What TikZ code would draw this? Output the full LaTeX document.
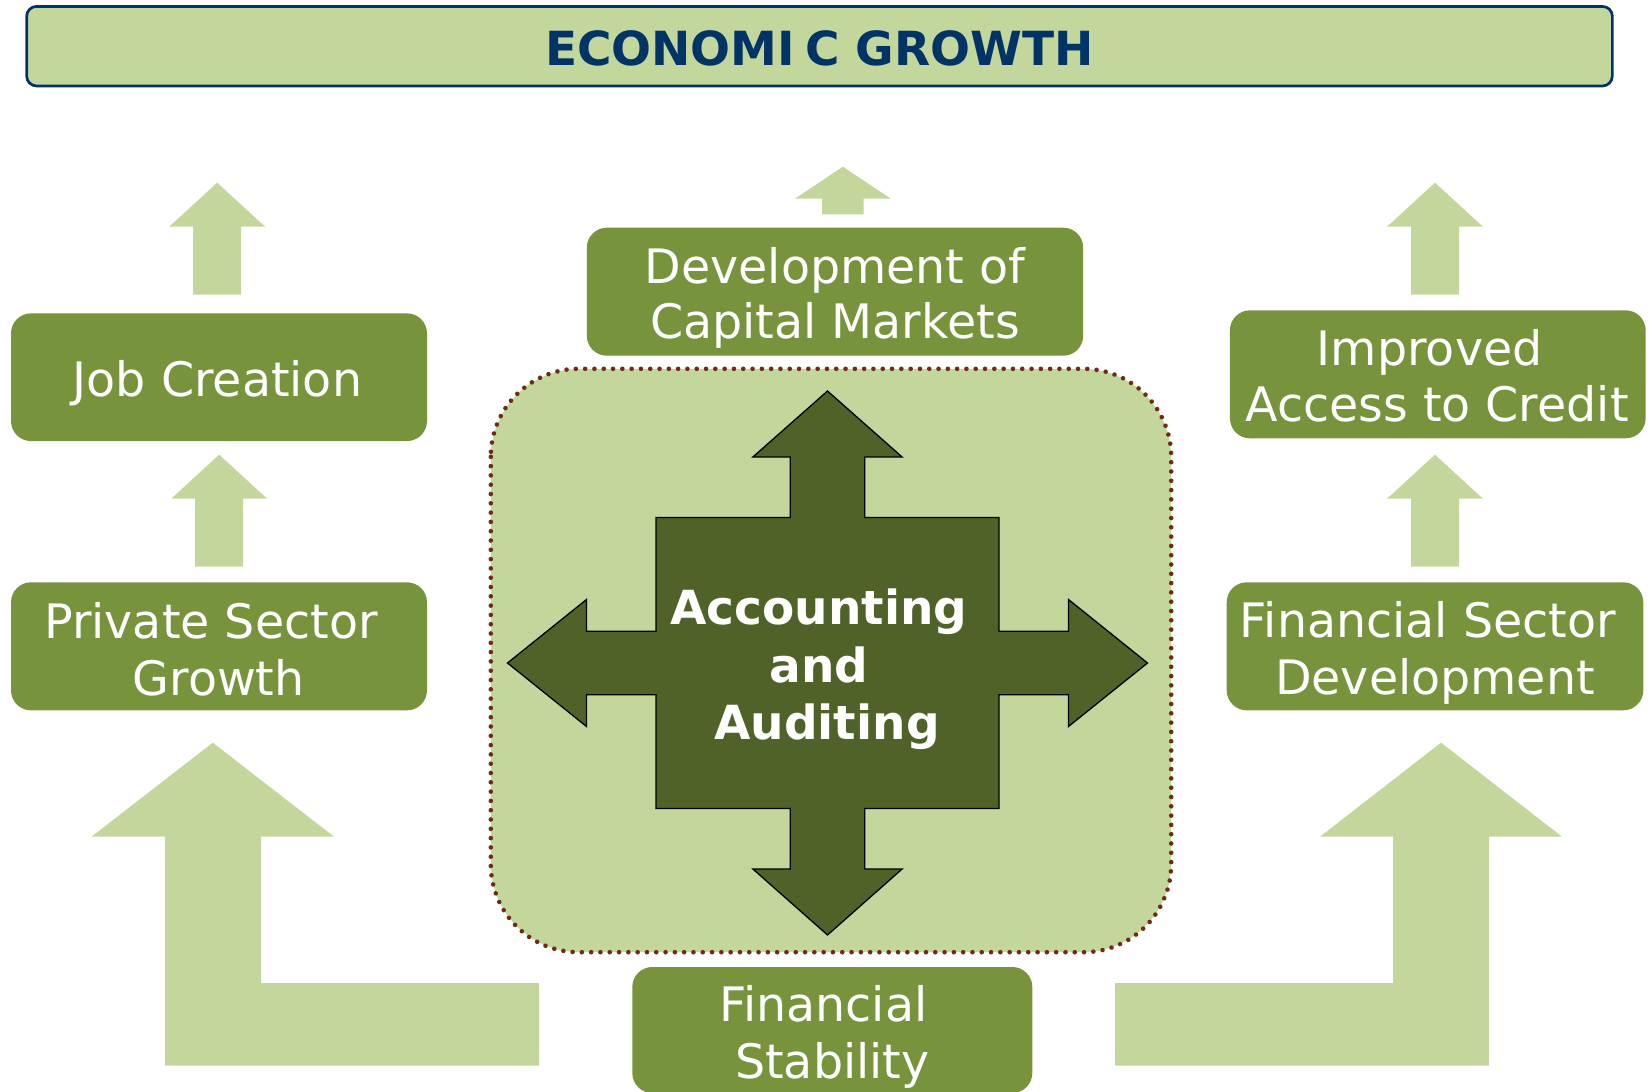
\documentclass[tikz,border=0pt]{standalone}
\usepackage{fontspec}
\usetikzlibrary{decorations.markings}
\setmainfont{DejaVu Sans}
\definecolor{lightg}{RGB}{195,214,155}
\definecolor{midg}{RGB}{119,147,60}
\definecolor{darkg}{RGB}{79,98,40}
\definecolor{navyc}{RGB}{0,51,102}
\definecolor{dotbrown}{RGB}{110,45,18}
\newcommand\greenup[6]{\fill[lightg] (#1,#2) -- (#1+#4,#3) -- (#1+#5,#3) -- (#1+#5,#6) -- (#1-#5,#6) -- (#1-#5,#3) -- (#1-#4,#3) -- cycle;}
\begin{document}
\begin{tikzpicture}[x=1pt,y=-1pt,
  gbox/.style={rectangle, fill=midg, rounded corners=20pt, inner sep=0pt, draw=none},
  lbl/.style={anchor=base, inner sep=0pt, text=white, font=\fontsize{47.5pt}{47.5pt}\selectfont},
  blbl/.style={anchor=base, inner sep=0pt, text=white, font=\bfseries\fontsize{47pt}{47pt}\selectfont},
  dotborder/.style={decoration={markings, mark=between positions 0 and 1 step 9.3pt with {\fill[dotbrown] (0,0) circle (2.3pt);}}, decorate}]
\clip (0,0) rectangle (1650,1092);
\fill[white] (0,0) rectangle (1650,1092);

% title
\node[rectangle, draw=navyc, line width=2.7pt, fill=lightg, rounded corners=10pt,
      minimum width=1585.7pt, minimum height=79.6pt, inner sep=0pt] (title) at (819.5,46.2) {};
\node[anchor=base, inner sep=0pt, text=navyc, font=\bfseries\fontsize{47pt}{47pt}\selectfont]
      (titlet) at (819.5,65.7) {ECONOMI\kern10pt C GROWTH};

% central container
\node[rectangle, fill=lightg, rounded corners=88pt, minimum width=680pt, minimum height=583pt,
      inner sep=0pt] (core) at (831,660.5) {};
\path[dotborder, rounded corners=88pt] (core.north west) rectangle (core.south east);

% quad arrow
\draw[fill=darkg, draw=black, line width=1.3pt, line join=miter]
  (827.5,391) -- (902.1,457) -- (864.7,457) -- (864.7,517.5) -- (999,517.5) -- (999,631.3)
  -- (1068.5,631.3) -- (1068.5,599.5) -- (1147.5,663) -- (1068.5,726.5) -- (1068.5,694.7)
  -- (999,694.7) -- (999,808.5) -- (864.7,808.5) -- (864.7,869) -- (902.1,869)
  -- (827.5,935) -- (752.9,869) -- (790.3,869) -- (790.3,808.5) -- (656,808.5)
  -- (656,694.7) -- (586.5,694.7) -- (586.5,726.5) -- (507.5,663) -- (586.5,599.5)
  -- (586.5,631.3) -- (656,631.3) -- (656,517.5) -- (790.3,517.5) -- (790.3,457)
  -- (752.9,457) -- cycle;
\node[blbl] (aa1) at (818.8,624.7) {Accounting};
\node[blbl] (aa2) at (818.8,682) {and};
\node[blbl] (aa3) at (827,739.6) {Auditing};

% boxes
\node[gbox, minimum width=416pt, minimum height=127.7pt] (job) at (219,377.2) {};
\node[lbl] (jobt) at (217.5,396.7) {Job Creation};

\node[gbox, minimum width=416pt, minimum height=128pt] (priv) at (219,646.3) {};
\node[lbl] (privt1) at (211,638.3) {Private Sector};
\node[lbl] (privt2) at (218.7,695) {Growth};

\node[gbox, minimum width=415.7pt, minimum height=128pt] (imp) at (1437.8,374.3) {};
\node[lbl] (impt1) at (1429.7,365) {Improved};
\node[lbl] (impt2) at (1437,421.7) {Access to Credit};

\node[gbox, minimum width=416.6pt, minimum height=128pt] (fsd) at (1435,646.3) {};
\node[lbl] (fsdt1) at (1427.8,637.3) {Financial Sector};
\node[lbl] (fsdt2) at (1435,694) {Development};

\node[gbox, minimum width=496.4pt, minimum height=128pt] (dcm) at (835,291.7) {};
\node[lbl] (dcmt1) at (835,283.3) {Development of};
\node[lbl] (dcmt2) at (835,338.3) {Capital Markets};

\node[gbox, minimum width=400pt, minimum height=126pt] (fs) at (832.3,1030) {};
\node[lbl] (fst1) at (823.3,1021.7) {Financial};
\node[lbl] (fst2) at (832.3,1078.3) {Stability};

% small block arrows
\greenup{217.2}{182.7}{226.7}{47.9}{24}{294.7}
\greenup{219.2}{454.7}{498.7}{47.9}{24}{566.7}
\greenup{1435}{182.7}{226.7}{47.9}{24}{294.7}
\greenup{1435}{454.7}{498.7}{47.9}{24}{566.7}
\greenup{842.9}{166.7}{198.7}{47.9}{20.7}{214.3}

% big L arrows
\fill[lightg] (212.8,742.7) -- (334,836.7) -- (261,836.7) -- (261,983) -- (539,983)
  -- (539,1065.7) -- (165,1065.7) -- (165,836.7) -- (91.5,836.7) -- cycle;
\fill[lightg] (1441,742.7) -- (1562,836.7) -- (1489,836.7) -- (1489,1065.7) -- (1115,1065.7)
  -- (1115,983) -- (1393,983) -- (1393,836.7) -- (1320,836.7) -- cycle;
\end{tikzpicture}
\end{document}
